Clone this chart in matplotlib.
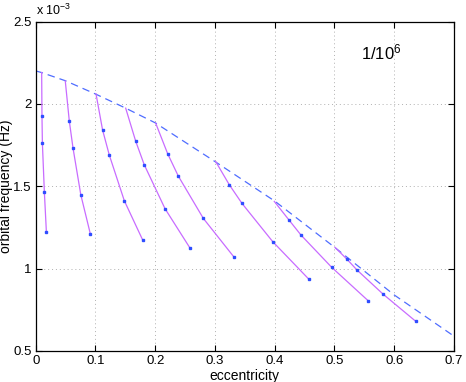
import numpy as np
import matplotlib
matplotlib.use('Agg')
import matplotlib.pyplot as plt

plt.rcParams['font.family'] = ['Liberation Sans', 'DejaVu Sans']
plt.rcParams['mathtext.fontset'] = 'custom'
plt.rcParams['mathtext.rm'] = 'Liberation Sans'
plt.rcParams['mathtext.it'] = 'Liberation Sans:italic'

# upper envelope (dashed), frequency in units of 1e-3 Hz
env_e = [0.0, 0.01, 0.05, 0.10, 0.15, 0.20, 0.30, 0.40, 0.50, 0.60, 0.70]
env_f = [2.20, 2.19, 2.14, 2.06, 1.975, 1.885, 1.65, 1.41, 1.13, 0.84, 0.59]

# evolution tracks: first point is the start on the envelope, rest are the dots
tracks_e = [
    [0.0100, 0.0105, 0.0112, 0.0145, 0.0179],
    [0.0495, 0.0562, 0.0624, 0.0755, 0.0915],
    [0.1009, 0.1119, 0.1232, 0.1483, 0.1790],
    [0.1506, 0.1673, 0.1817, 0.2164, 0.2582],
    [0.2008, 0.2209, 0.2386, 0.2805, 0.3323],
    [0.3012, 0.3240, 0.3452, 0.3966, 0.4568],
    [0.3993, 0.4239, 0.4439, 0.4953, 0.5561],
    [0.5008, 0.5204, 0.5376, 0.5817, 0.6364],
]
tracks_f = [
    [2.190, 1.929, 1.762, 1.465, 1.222],
    [2.139, 1.897, 1.733, 1.448, 1.210],
    [2.061, 1.842, 1.689, 1.412, 1.174],
    [1.974, 1.774, 1.630, 1.364, 1.125],
    [1.883, 1.697, 1.562, 1.305, 1.068],
    [1.650, 1.509, 1.396, 1.164, 0.937],
    [1.408, 1.295, 1.204, 1.008, 0.806],
    [1.129, 1.059, 0.992, 0.844, 0.679],
]

fig = plt.figure(figsize=(4.66, 3.82), dpi=100)
ax = fig.add_axes([0.0766, 0.0812, 0.8976, 0.8625])

ax.plot(env_e, env_f, linestyle=(0, (6, 4)), color='#4f6dff', lw=0.9)
for e, f in zip(tracks_e, tracks_f):
    ax.plot(e, f, color='#c86cff', lw=0.9)
    ax.plot(e[1:], f[1:], linestyle='none', marker='s', ms=1.6,
            color='#2f4dff', mec='#2f4dff')

ax.set_xlim(0, 0.7)
ax.set_ylim(0.5, 2.5)
ax.set_xticks(np.arange(0, 0.71, 0.1))
ax.set_xticklabels(['0', '0.1', '0.2', '0.3', '0.4', '0.5', '0.6', '0.7'])
ax.set_yticks([0.5, 1, 1.5, 2, 2.5])
ax.set_yticklabels(['0.5', '1', '1.5', '2', '2.5'])
ax.tick_params(direction='in', top=True, right=True, labelsize=9.5, length=4, pad=3)
ax.grid(True, linestyle=(0, (1, 3)), color='#b0b0b0', lw=0.7)
for s in ax.spines.values():
    s.set_linewidth(0.9)

ax.set_xlabel('eccentricity', fontsize=10, labelpad=1)
ax.set_ylabel('orbital frequency (Hz)', fontsize=10)
ax.yaxis.set_label_coords(-0.054, 0.5)
ax.text(0.0, 1.012, 'x 10$^{-3}$', transform=ax.transAxes, fontsize=9,
        ha='left', va='bottom')
ax.text(0.578, 2.315, '1/10$^{6}$', fontsize=12, ha='center', va='center')

fig.savefig('out.png', dpi=100)
